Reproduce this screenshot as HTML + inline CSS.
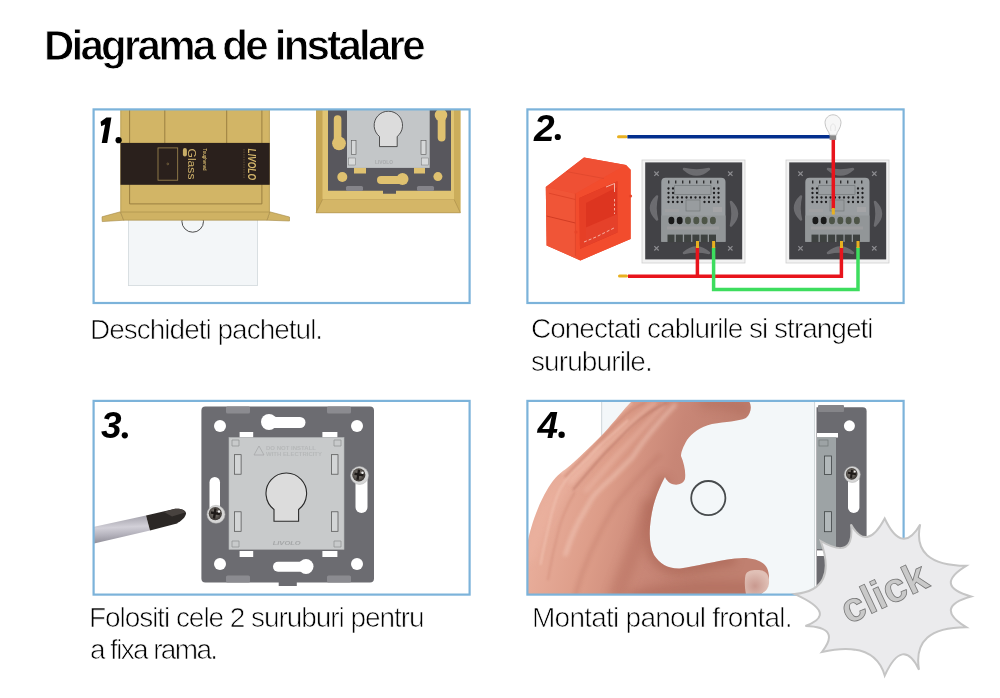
<!DOCTYPE html>
<html><head><meta charset="utf-8">
<style>
html,body{margin:0;padding:0;background:#fff;width:1000px;height:698px;overflow:hidden;position:relative;font-family:"Liberation Sans",sans-serif;}
h1{position:absolute;margin:0;left:44px;top:22.5px;font-size:42px;line-height:45px;font-weight:bold;color:#000;-webkit-text-stroke:0.85px #fff;white-space:nowrap;letter-spacing:-2.75px;will-change:transform;}
.cap{position:absolute;font-size:28px;color:#000;-webkit-text-stroke:0.7px #fff;line-height:34px;white-space:nowrap;will-change:transform;}
svg{position:absolute;left:0;top:0;will-change:transform;}
</style></head><body>
<h1>Diagrama de instalare</h1>
<svg width="1000" height="698" viewBox="0 0 1000 698">
<defs>
<clipPath id="c1"><rect x="93.6" y="109.4" width="376" height="193.6"/></clipPath>
<clipPath id="c2"><rect x="527.4" y="109.4" width="376.2" height="193.6"/></clipPath>
<clipPath id="c3"><rect x="93.6" y="400.9" width="376" height="193.7"/></clipPath>
<clipPath id="c4"><rect x="527.4" y="400.9" width="376.2" height="193.7"/></clipPath>
</defs>
<g clip-path="url(#c1)">
 <rect x="128.4" y="200" width="129.2" height="85.6" fill="#f3f6f8" stroke="#d3d9dc" stroke-width="0.8"/>
 <circle cx="192.7" cy="221.4" r="10.8" fill="none" stroke="#3a3a3a" stroke-width="0.9"/>
 <polygon points="120.3,211.8 102,216.8 102.2,221.6 124,220.2" fill="#d0b365" stroke="#a48a48" stroke-width="0.6"/>
 <polygon points="269.7,211.8 289.5,217 289.5,221 267,220.2" fill="#d0b365" stroke="#a48a48" stroke-width="0.6"/>
 <rect x="120.5" y="100" width="149.2" height="112" fill="#d2b566"/>
 <polygon points="120.5,212 269.7,212 267,220.2 123.6,220.2" fill="#cfb263" stroke="#a48a48" stroke-width="0.6"/>
 <line x1="120.8" y1="100" x2="120.8" y2="212" stroke="#b89d55" stroke-width="0.8"/>
 <line x1="269.4" y1="100" x2="269.4" y2="212" stroke="#b89d55" stroke-width="0.8"/>
 <path d="M129.6,100 V203.9 H261.9 V100" stroke="#94793d" fill="none" stroke-width="0.9"/>
 <path d="M164.8,100 V143 M226.7,100 V143" stroke="#94793d" stroke-width="0.9"/>
 <rect x="120.5" y="142.9" width="149.2" height="41.9" fill="#2a201c"/>
 <rect x="158" y="147.9" width="19.7" height="32.3" fill="none" stroke="#a38a52" stroke-width="0.8"/>
 <circle cx="167.8" cy="163.9" r="0.9" fill="none" stroke="#a38a52" stroke-width="0.5"/>
 <rect x="182.9" y="148" width="4" height="8.5" rx="2" fill="#c8ad66"/>
 <text transform="translate(188.3,148.5) rotate(90)" font-family="Liberation Sans" font-size="11.5" fill="#cdb06a" textLength="31" lengthAdjust="spacingAndGlyphs">Glass</text>
 <text transform="translate(203,148.5) rotate(90)" font-family="Liberation Sans" font-weight="bold" font-size="4.5" fill="#cdb06a" textLength="22" lengthAdjust="spacingAndGlyphs">Toughened</text>
 <text transform="translate(247.5,148.5) rotate(90)" font-family="Liberation Sans" font-weight="bold" font-style="italic" font-size="10" fill="#d6b86c" textLength="31.5" lengthAdjust="spacingAndGlyphs">LIVOLO</text>
 <line x1="244" y1="149" x2="244" y2="178" stroke="#6e5c3c" stroke-width="0.8" stroke-dasharray="1.5,1"/>

 <rect x="316" y="100" width="144.4" height="112.8" fill="#d2b365"/>
 <polygon points="316,100 322.6,100 322.6,199.4 316,212.8" fill="#c6a654"/>
 <polygon points="460.4,100 454,100 454,199.4 460.4,212.8" fill="#cbad5b"/>
 <polygon points="316,212.8 322.6,199.4 454,199.4 460.4,212.8" fill="#d4b667" stroke="#a88c48" stroke-width="0.6"/>
 <rect x="322.6" y="100" width="131.4" height="99.4" fill="#e0c473"/>
 <path d="M328,100 H451 V190.7 H396 V193.8 H383 V190.7 H328 Z" fill="#58575d"/>
 <path d="M337.6,119 V140" stroke="#dfc170" stroke-width="7.6" stroke-linecap="round"/>
 <circle cx="339" cy="143.3" r="6.9" fill="#dfc170"/>
 <path d="M441.6,116 V137.5" stroke="#dfc170" stroke-width="7.8" stroke-linecap="round"/>
 <circle cx="441" cy="115.1" r="6.3" fill="#dfc170"/>
 <circle cx="342.3" cy="177" r="5" fill="#dfc170"/>
 <circle cx="437.9" cy="176.6" r="4.5" fill="#dfc170"/>
 <path d="M381,180 H401" stroke="#dfc170" stroke-width="8" stroke-linecap="round"/>
 <circle cx="402.5" cy="179" r="6" fill="#dfc170"/>
 <rect x="354" y="167.5" width="12" height="6" fill="#dfc170"/>
 <rect x="414" y="167.5" width="11" height="6" fill="#dfc170"/>
 <rect x="346" y="186" width="17" height="5" rx="1.5" fill="#85848a"/>
 <rect x="417" y="186" width="17" height="5" rx="1.5" fill="#85848a"/>
 <rect x="347" y="100" width="82.7" height="67.9" fill="#c3c6c8"/>
 <rect x="348.5" y="158" width="7" height="7" fill="#d8dadb" stroke="#777" stroke-width="0.5"/>
 <rect x="421.5" y="158" width="7" height="7" fill="#d8dadb" stroke="#777" stroke-width="0.5"/>
 <rect x="351.3" y="140.3" width="4.7" height="14.2" fill="#d6d8d9" stroke="#555" stroke-width="0.6"/>
 <rect x="421" y="140.3" width="5" height="14.2" fill="#d6d8d9" stroke="#555" stroke-width="0.6"/>
 <path d="M379.5,146.6 V136.5 A14.2,14.2 0 1 1 397.2,136.5 V146.6 Z" fill="#dcdcdc" stroke="#2e2e2e" stroke-width="0.8"/>
 <text x="375" y="164" font-family="Liberation Sans" font-size="4.5" font-weight="bold" fill="#a9abad" textLength="18" lengthAdjust="spacingAndGlyphs">LIVOLO</text>
</g>
<defs>
 <g id="sw">
  <rect x="0" y="0" width="103" height="103" fill="#f2f2f2" stroke="#cfcfcf" stroke-width="0.8"/>
  <rect x="3.2" y="2.4" width="97" height="97" fill="#424246"/>
  <path d="M42,9 Q54.5,20 67,9 Q54.5,12 42,9 Z" fill="#6c6c70" stroke="#6c6c70" stroke-width="2.5" stroke-linejoin="round"/>
  <path d="M42,93 Q54.5,82 67,93 Q54.5,90 42,93 Z" fill="#6c6c70" stroke="#6c6c70" stroke-width="2.5" stroke-linejoin="round"/>
  <path d="M15,36.5 Q3,48 15,59.5 Q12,48 15,36.5 Z" fill="#6c6c70" stroke="#6c6c70" stroke-width="2.5" stroke-linejoin="round"/>
  <path d="M89,42 Q101,53.7 89,65.5 Q92,53.7 89,42 Z" fill="#6c6c70" stroke="#6c6c70" stroke-width="2.5" stroke-linejoin="round"/>
  <g stroke="#8c8c90" stroke-width="1.2">
  <path d="M12.3,11.5 L16.7,15.9 M16.7,11.5 L12.3,15.9"/>
  <path d="M86.1,11.5 L90.5,15.9 M90.5,11.5 L86.1,15.9"/>
  <path d="M12.3,86.1 L16.7,90.5 M16.7,86.1 L12.3,90.5"/>
  <path d="M86.1,86.1 L90.5,90.5 M90.5,86.1 L86.1,90.5"/>
  </g>
  <path d="M19.3,81.8 V22 Q19.3,17.7 23.6,17.7 H79.2 Q83.5,17.7 83.5,22 V81.8 Z" fill="#9a9ea1"/>
  <path d="M19.3,55.4 H83.5 V81.8 H19.3 Z" fill="#929698"/>
  <g fill="#2e2e30">
   <rect x="26" y="20.5" width="1.4" height="3"/><rect x="33" y="20.5" width="1.4" height="3"/><rect x="40" y="20.5" width="1.4" height="3"/><rect x="47" y="20.5" width="1.4" height="3"/>
   <rect x="54" y="20.5" width="1.4" height="3"/><rect x="61" y="20.5" width="1.4" height="3"/><rect x="68" y="20.5" width="1.4" height="3"/><rect x="75" y="20.5" width="1.4" height="3"/>
  </g>
  <g fill="#1c1c1e">
   <circle cx="26.5" cy="28.5" r="1.15"/><circle cx="31" cy="28.5" r="1.15"/><circle cx="72" cy="28.5" r="1.15"/><circle cx="76.5" cy="28.5" r="1.15"/>
   <circle cx="26.5" cy="33" r="1.15"/><circle cx="31" cy="33" r="1.15"/><circle cx="72" cy="33" r="1.15"/><circle cx="76.5" cy="33" r="1.15"/>
   <circle cx="26.5" cy="37.5" r="1.15"/><circle cx="31" cy="37.5" r="1.15"/><circle cx="35.5" cy="37.5" r="1.15"/><circle cx="40" cy="37.5" r="1.15"/><circle cx="44.5" cy="37.5" r="1.15"/><circle cx="49" cy="37.5" r="1.15"/><circle cx="53.5" cy="37.5" r="1.15"/><circle cx="58" cy="37.5" r="1.15"/><circle cx="62.5" cy="37.5" r="1.15"/><circle cx="67" cy="37.5" r="1.15"/><circle cx="72" cy="37.5" r="1.15"/><circle cx="76.5" cy="37.5" r="1.15"/>
   <circle cx="26.5" cy="42" r="1.15"/><circle cx="31" cy="42" r="1.15"/><circle cx="35.5" cy="42" r="1.15"/><circle cx="40" cy="42" r="1.15"/><circle cx="62.5" cy="42" r="1.15"/><circle cx="67" cy="42" r="1.15"/><circle cx="72" cy="42" r="1.15"/><circle cx="76.5" cy="42" r="1.15"/>
  </g>
  <rect x="32.6" y="25.7" width="36.4" height="8.8" fill="#9a9ea1" stroke="#6e7274" stroke-width="0.6"/>
  <rect x="44" y="40" width="14" height="11" fill="#989c9f" stroke="#6e7274" stroke-width="0.6"/>
  <rect x="23" y="49" width="14" height="3" fill="#a0a0a2"/>
  <rect x="71" y="47" width="9" height="5" fill="#a5a5a7"/>
  <g>
   <rect x="26.5" y="56.7" width="5.8" height="7.5" rx="2.9" fill="#1a1a1a"/>
   <rect x="34.8" y="56.7" width="5.8" height="7.5" rx="2.9" fill="#1a1a1a"/>
   <rect x="43.1" y="56.7" width="5.8" height="7.5" rx="2.9" fill="#4e5548"/>
   <rect x="51.4" y="56.7" width="5.8" height="7.5" rx="2.9" fill="#4e5548"/>
   <rect x="59.7" y="56.7" width="5.8" height="7.5" rx="2.9" fill="#4e5548"/>
   <rect x="68" y="56.7" width="5.8" height="7.5" rx="2.9" fill="#4e5548"/>
  </g>
  <rect x="25" y="66.5" width="52" height="3" fill="#9c9c9e"/>
  <g fill="#3e4240">
   <rect x="25.5" y="74.6" width="7" height="7.5"/><rect x="33.8" y="74.6" width="7" height="7.5"/><rect x="42.1" y="74.6" width="7" height="7.5"/>
   <rect x="50.4" y="74.6" width="7" height="7.5"/><rect x="58.7" y="74.6" width="7" height="7.5"/><rect x="67" y="74.6" width="7" height="7.5"/>
  </g>
 </g>
</defs>
<g clip-path="url(#c2)">
 <polygon points="545.8,187 584,157.4 626,165 630.6,169.8 630.6,239 580.4,260.4 546.6,245.5" fill="#ee4a2e"/>
 <polygon points="545.8,187 584,157.4 626,165 575.4,193.7" fill="#ef5034"/>
 <polygon points="545.8,187 575.4,193.7 575.4,256 580.4,260.4 546.6,245.5" fill="#f05537"/>
 <path d="M575.4,193.7 L626,165 L630.6,169.8 L630.6,239 L580.4,260.4 L575.4,256 Z M579.5,198 L617.4,181.3 L617.4,232.4 L580,248.8 Z" fill="#f24c2d" fill-rule="evenodd"/>
 <polygon points="579.5,198 617.4,181.3 617.4,232.4 580,248.8" fill="#dd3520"/>
 <polygon points="580,230 617.4,214 617.4,232.4 580,248.8" fill="#e5412a"/>
 <polygon points="579.5,198 617.4,181.3 617.4,187 586,203 586,245.5 580,248.8" fill="#e63f26"/>
 <polyline points="606,187 614.5,183.5 614.5,192" fill="none" stroke="#f9d0c4" stroke-width="0.8"/>
 <polyline points="614.5,199 614.5,214" fill="none" stroke="#f9d0c4" stroke-width="0.8" stroke-dasharray="2.5,2"/>
 <polyline points="584,242 596,237 608,231 614,228" fill="none" stroke="#f9d0c4" stroke-width="0.8" stroke-dasharray="3,2"/>
 <line x1="548.9" y1="193.2" x2="575.4" y2="199.5" stroke="#d83d24" stroke-width="0.7"/>
 <line x1="546.6" y1="216" x2="575.4" y2="223" stroke="#c9351e" stroke-width="0.8"/>
 <line x1="566" y1="171.5" x2="604" y2="178.5" stroke="#d8432a" stroke-width="0.6"/>
 <line x1="575.4" y1="193.7" x2="575.4" y2="256" stroke="#d9442a" stroke-width="0.6"/>
 <circle cx="630.5" cy="196" r="1.6" fill="#e84428"/>
 <circle cx="576" cy="232" r="1.6" fill="#e84428"/>
 <use href="#sw" x="642" y="160"/>
 <use href="#sw" x="786" y="160"/>

 <rect x="617" y="135.3" width="10.5" height="3" rx="1.5" fill="#e8b020"/>
 <rect x="627.4" y="135" width="203" height="3.5" fill="#032f8e"/>
 <rect x="618" y="274.6" width="10" height="3" rx="1.5" fill="#e8b020"/>
 <path d="M628,276.3 H697.4 V247 M697.4,276.3 H841.4 V247" fill="none" stroke="#e8141c" stroke-width="3.5"/>
 <path d="M713.6,247 V289.5 H858 V247" fill="none" stroke="#3ddd5e" stroke-width="3.5"/>
 <path d="M833.3,139 V209" fill="none" stroke="#e8141c" stroke-width="3.5"/>
 <g fill="#e8b020">
  <rect x="696" y="241" width="3" height="7"/><rect x="712.1" y="241" width="3" height="7"/>
  <rect x="840" y="241" width="3" height="7"/><rect x="856.5" y="241" width="3" height="7"/>
  <rect x="831.8" y="208" width="3" height="6.5"/>
 </g>
 <path d="M829.6,135.2 C829.3,131.5 825,128.5 825,122.8 C825,118.3 828.6,114.8 833,114.8 C837.4,114.8 841,118.3 841,122.8 C841,128.5 836.7,131.5 836.4,135.2 Z" fill="#f7f7f7" stroke="#b8b8b8" stroke-width="0.8"/>
 <path d="M831,131 C830,127 831,124 833,124 C835,124 836,127 835,131" fill="none" stroke="#dedede" stroke-width="0.7"/>
 <rect x="829.6" y="135.4" width="6.6" height="4.5" fill="#8a8a8a"/>
</g>
<defs>
 <radialGradient id="scr" cx="0.45" cy="0.45" r="0.6">
  <stop offset="0" stop-color="#8a8580"/><stop offset="0.6" stop-color="#5a5550"/><stop offset="1" stop-color="#2e2a28"/>
 </radialGradient>
 <linearGradient id="shaft" x1="0" y1="0" x2="0.1" y2="1">
  <stop offset="0" stop-color="#9a98a2"/><stop offset="0.45" stop-color="#d2d0d8"/><stop offset="0.7" stop-color="#b4b2bc"/><stop offset="1" stop-color="#8d8b95"/>
 </linearGradient>
</defs>
<g clip-path="url(#c3)">
 <polygon points="90,527.6 146,515.5 150,530.5 90,544.5" fill="url(#shaft)"/>
 <path d="M146,515.5 L173,509.2 C180,508 186,510 186,513.5 C185.8,517 181.5,520.5 177,523.5 L150,530.5 Z" fill="#2b2725"/>
 <path d="M164,512 L173,509.2 C180,508 185,510 185,512.5 L172,516.5 Z" fill="#48423f"/>

 <path d="M205.4,406.5 H370 Q374,406.5 374,410.5 V578.5 Q374,582.5 370,582.5 H296.8 V586 H278.7 V582.5 H205.4 Q201.4,582.5 201.4,578.5 V410.5 Q201.4,406.5 205.4,406.5 Z" fill="#6c6c71"/>
 <rect x="226" y="406.5" width="24" height="7" rx="1.5" fill="#8b8b90"/>
 <rect x="327" y="406.5" width="24" height="7" rx="1.5" fill="#8b8b90"/>
 <rect x="226" y="575.5" width="24" height="7" rx="1.5" fill="#8b8b90"/>
 <rect x="327" y="575.5" width="24" height="7" rx="1.5" fill="#8b8b90"/>
 <g fill="#fff">
  <circle cx="220" cy="426" r="6"/><circle cx="357" cy="426" r="6"/>
  <circle cx="220" cy="564" r="6"/><circle cx="357" cy="564" r="6"/>
  <path d="M270,422.5 H300" stroke="#fff" stroke-width="11" stroke-linecap="round"/>
  <circle cx="269" cy="422" r="8"/>
  <path d="M278,566.8 H305" stroke="#fff" stroke-width="10" stroke-linecap="round"/>
  <circle cx="306" cy="566.5" r="7.5"/>
  <rect x="209.5" y="477" width="10.5" height="39" rx="5.25"/>
  <rect x="355.5" y="474" width="12" height="39" rx="6"/>
  <rect x="239.6" y="432" width="13.6" height="5.5"/><rect x="322.4" y="432" width="15" height="5.5"/>
  <rect x="239.6" y="551" width="13.6" height="6"/><rect x="322.4" y="551" width="15" height="6"/>
 </g>
 <rect x="229" y="437.5" width="115" height="111.9" fill="#c8cacb"/>
 <rect x="229" y="437.5" width="115" height="111.9" fill="none" stroke="#b3b5b6" stroke-width="0.6"/>
 <path d="M232,440 h7 v6 h-7 z M334,440 h7 v6 h-7 z M232,541 h7 v6 h-7 z M334,541 h7 v6 h-7 z" fill="none" stroke="#8e9091" stroke-width="0.7"/>
 <rect x="234.5" y="454.7" width="6.6" height="19.5" fill="#d3d5d6" stroke="#4a4a4a" stroke-width="0.7"/>
 <rect x="234.5" y="511.8" width="6.6" height="19.5" fill="#d3d5d6" stroke="#4a4a4a" stroke-width="0.7"/>
 <rect x="331.4" y="454.7" width="6.6" height="19.5" fill="#d3d5d6" stroke="#4a4a4a" stroke-width="0.7"/>
 <rect x="331.4" y="511.8" width="6.6" height="19.5" fill="#d3d5d6" stroke="#4a4a4a" stroke-width="0.7"/>
 <path d="M274,521.2 V509.45 A20.3,20.3 0 1 1 298.6,509.45 V521.2 Z" fill="#dcdcdc" stroke="#2a2a2a" stroke-width="1.1"/>
 <polygon points="259,446 254,455 264,455" fill="none" stroke="#a3a5a6" stroke-width="0.7"/>
 <text x="266" y="450" font-family="Liberation Sans" font-weight="bold" font-size="4.5" fill="#b6b8b9" textLength="50" lengthAdjust="spacingAndGlyphs">DO NOT INSTALL</text>
 <text x="266" y="456" font-family="Liberation Sans" font-weight="bold" font-size="4.5" fill="#b6b8b9" textLength="56" lengthAdjust="spacingAndGlyphs">WITH ELECTRICITY</text>
 <text x="272.7" y="545" font-family="Liberation Sans" font-weight="bold" font-style="italic" font-size="6" fill="#a5a7a8" textLength="28" lengthAdjust="spacingAndGlyphs">LIVOLO</text>
 <g id="screwA">
 <circle cx="216" cy="514.3" r="9" fill="#d6d6d6" stroke="#b0b0b0" stroke-width="0.5"/>
 <circle cx="215.3" cy="513.6" r="6.6" fill="url(#scr)"/>
 <path d="M211,512.5 L220,514 M215.5,508.5 L214,518.5" stroke="#1e1a18" stroke-width="2.4"/>
 <circle cx="219" cy="511.5" r="1.2" fill="#f0f0f0"/>
 </g>
 <circle cx="359.5" cy="475.5" r="9" fill="#d6d6d6" stroke="#b0b0b0" stroke-width="0.5"/>
 <circle cx="358.8" cy="474.8" r="6.6" fill="url(#scr)"/>
 <path d="M354.5,473.7 L363.5,475.2 M359,469.7 L357.5,479.7" stroke="#1e1a18" stroke-width="2.4"/>
 <circle cx="362.5" cy="472.7" r="1.2" fill="#f0f0f0"/>
</g>
<defs>
 <linearGradient id="hand" gradientUnits="userSpaceOnUse" x1="540" y1="520" x2="700" y2="560">
  <stop offset="0" stop-color="#e8ad9a"/><stop offset="0.35" stop-color="#dc9c88"/><stop offset="0.7" stop-color="#c88676"/><stop offset="1" stop-color="#c08070"/>
 </linearGradient>
 <linearGradient id="handL" x1="0" y1="0" x2="1" y2="0">
  <stop offset="0" stop-color="#e7a48d" stop-opacity="0.9"/><stop offset="1" stop-color="#e7a48d" stop-opacity="0"/>
 </linearGradient>
 <radialGradient id="scr2" cx="0.45" cy="0.45" r="0.6">
  <stop offset="0" stop-color="#8a8580"/><stop offset="0.6" stop-color="#5a5550"/><stop offset="1" stop-color="#2e2a28"/>
 </radialGradient>
</defs>
<g clip-path="url(#c4)">
 <rect x="601.4" y="390" width="213.6" height="210" fill="#f3f7f9"/>
 <line x1="601.6" y1="390" x2="601.6" y2="600" stroke="#d5dcdf" stroke-width="1.2"/>
 <line x1="814.6" y1="390" x2="814.6" y2="600" stroke="#cfd5d8" stroke-width="1"/>
 <path d="M816.5,407.2 H862.6 Q866.6,407.2 866.6,411.2 V600 H816.5 Z" fill="#6b6b70"/>
 <rect x="818" y="405" width="26" height="7" rx="1" fill="#858589"/>
 <circle cx="849.4" cy="425.8" r="5.5" fill="#fff"/>
 <rect x="817" y="433" width="21" height="4.5" fill="#fff"/>
 <rect x="817" y="550.4" width="21" height="5.6" fill="#fff"/>
 <rect x="848" y="474" width="11.4" height="39" rx="5.7" fill="#fff"/>
 <rect x="817" y="437.2" width="19" height="111.8" fill="#9da3a5"/>
 <rect x="819" y="440" width="9" height="6" fill="none" stroke="#707677" stroke-width="0.7"/>
 <rect x="824.5" y="456" width="6.9" height="18.5" fill="#b2b8ba" stroke="#3f4445" stroke-width="0.8"/>
 <rect x="824.5" y="511.7" width="6.9" height="20" fill="#b2b8ba" stroke="#3f4445" stroke-width="0.8"/>
 <circle cx="852.3" cy="474.5" r="8" fill="#d6d6d6" stroke="#b0b0b0" stroke-width="0.5"/>
 <circle cx="851.7" cy="473.9" r="5.8" fill="url(#scr2)"/>
 <path d="M848,472.8 L856,474.2 M852,470 L851,478" stroke="#1e1a18" stroke-width="2.1"/>
 <circle cx="854.8" cy="471.5" r="1" fill="#f0f0f0"/>

 <circle cx="708.3" cy="498.1" r="17.1" fill="none" stroke="#474b4d" stroke-width="1.8"/>

 <clipPath id="hc"><path d="M527,600 L527,546 C530,528 538,505 547,490 C552,481 558,474 566,469 C578,459 590,447 604,433 C615,421 624,409 633,400 L748,400 C752,404 752,413 746,418 C738,421.5 726,421.5 712,424 C700,427 692,433 687,440 C683,447 681,452 681,456 C684,463 686,472 685,479 C683,485 675,486 670,483 C666,480 665,477 665,477 C659,488 653,503 651,518 C649,532 649,545 654,555 C660,564 668,569 680,568.5 C697,566.5 715,561 735,558.6 C750,556.5 763,560 767,568 C771,577 769,588 762,593 C758,597 754,600 750,600 Z"/></clipPath>
 <filter id="bl2" filterUnits="userSpaceOnUse" x="500" y="380" width="320" height="240"><feGaussianBlur stdDeviation="2"/></filter>
 <filter id="bl4" filterUnits="userSpaceOnUse" x="500" y="380" width="320" height="240"><feGaussianBlur stdDeviation="5"/></filter>
 <filter id="bl1" filterUnits="userSpaceOnUse" x="500" y="380" width="320" height="240"><feGaussianBlur stdDeviation="0.9"/></filter>
 <path d="M527,600 L527,546 C530,528 538,505 547,490 C552,481 558,474 566,469 C578,459 590,447 604,433 C615,421 624,409 633,400 L748,400 C752,404 752,413 746,418 C738,421.5 726,421.5 712,424 C700,427 692,433 687,440 C683,447 681,452 681,456 C684,463 686,472 685,479 C683,485 675,486 670,483 C666,480 665,477 665,477 C659,488 653,503 651,518 C649,532 649,545 654,555 C660,564 668,569 680,568.5 C697,566.5 715,561 735,558.6 C750,556.5 763,560 767,568 C771,577 769,588 762,593 C758,597 754,600 750,600 Z" fill="url(#hand)"/>
 <g clip-path="url(#hc)">
  <path d="M665,477 C659,488 653,503 651,518 C649,532 649,545 654,555 C660,564 668,569 680,568.5 C697,566.5 715,561 735,558.6" fill="none" stroke="#9c5444" stroke-width="12" opacity="0.4" filter="url(#bl4)"/>
  <path d="M630,600 C650,590 700,585 770,590" fill="none" stroke="#a05848" stroke-width="14" opacity="0.35" filter="url(#bl4)"/>
  <path d="M700,402 C720,402 735,404 750,410" fill="none" stroke="#a86050" stroke-width="12" opacity="0.35" filter="url(#bl4)"/>
  <path d="M615,600 C625,570 640,540 650,500" fill="none" stroke="#a45c4c" stroke-width="16" opacity="0.3" filter="url(#bl4)"/>
  <path d="M527,560 C540,520 560,480 600,445" fill="none" stroke="#eeb7a5" stroke-width="14" opacity="0.4" filter="url(#bl4)"/>
  <path d="M540.4,565 C545,540 549,525 551.6,513.8 C555,500 559,490 562.8,484.7 C568,476 573,471 578.5,466.8 C588,458 595,450 600.8,444.5 C610,436 620,428 628,420" fill="none" stroke="#f2c4b3" stroke-width="1.8" opacity="0.75" filter="url(#bl1)"/>
  <path d="M548,580 C552,555 556,540 560,525 C565,510 570,500 575,492" fill="none" stroke="#c98370" stroke-width="1.5" opacity="0.5" filter="url(#bl1)"/>
  <path d="M565,556 C570,540 576,525 583,513.8 C587,507 590,502 592,498 C598,490 605,484 612,478 C620,470 626,464 632,458 C636,452 640,446 643,442 C652,430 662,418 676,404" fill="none" stroke="#f6d0c2" stroke-width="2.6" opacity="0.8" filter="url(#bl2)"/>
  <path d="M575,596 C585,560 600,530 615,505 C630,485 645,470 660,455" fill="none" stroke="#b26c5c" stroke-width="3" opacity="0.35" filter="url(#bl2)"/>
  <path d="M569,483 C585,466 605,446 620,433 C635,420 645,410 656,402" fill="none" stroke="#f2c3b2" stroke-width="4" opacity="0.55" filter="url(#bl2)"/>
  <path d="M585,492 C600,475 612,460 622,450 C635,436 648,422 665,404" fill="none" stroke="#f0bfae" stroke-width="4" opacity="0.5" filter="url(#bl2)"/>
  <path d="M565,477 C585,456 600,440 616.7,423.2 C628,412 636,406 645,402.6" fill="none" stroke="#c07a68" stroke-width="1.5" opacity="0.65" filter="url(#bl1)"/>
  <path d="M573,490 C590,470 600,458 609,449 C618,440 625,432 632,425.8 C645,414 655,408 667,402.6" fill="none" stroke="#b47060" stroke-width="1.8" opacity="0.6" filter="url(#bl1)"/>
  <path d="M561,474 C580,454 598,436 614,419.3 C620,413 626,407 632,402.6" fill="none" stroke="#f4cbbb" stroke-width="2" opacity="0.6" filter="url(#bl1)"/>
 </g>
 <radialGradient id="nail" gradientUnits="userSpaceOnUse" cx="755" cy="586" r="14"><stop offset="0" stop-color="#c9998f"/><stop offset="1" stop-color="#e0c0b6"/></radialGradient>
 <path d="M745.5,575 C747,570 755,569.5 762,570.5 C767.5,572 769.5,577 769,583 C768.5,588 766,592 760,594 L746,594 C744.5,587 744.5,580 745.5,575 Z" fill="url(#nail)"/>
</g>

<g fill="none" stroke="#7cb3da" stroke-width="2.2">
<rect x="93.6" y="109.4" width="376" height="193.6"/>
<rect x="527.4" y="109.4" width="376.2" height="193.6"/>
<rect x="93.6" y="400.9" width="376" height="193.7"/>
<rect x="527.4" y="400.9" width="376.2" height="193.7"/>
</g>
<g font-family="Liberation Sans" font-weight="bold" font-size="37" fill="#000">
<path d="M106.4,117.6 L111.4,117.6 L107.2,143 L101.7,143 L105.1,124.4 L101.2,126.2 L100.6,121.8 Z"/><circle cx="118.6" cy="140.2" r="3.1"/>
<text x="534" y="140.5" font-style="italic">2</text><circle cx="557.8" cy="137" r="3.1"/>
<text x="101" y="438.3" font-style="italic">3</text><circle cx="124.8" cy="435.3" r="3.1"/>
<text x="537.5" y="438.3" font-style="italic">4</text><circle cx="561.6" cy="434.8" r="3.2"/>
</g>
<path d="M884.7,518.5 Q902.3,555.8 920.2,524.4 Q911.2,565.3 966.2,565.8 Q933.2,585.9 971.0,596.5 Q933.2,607.1 966.2,627.2 Q911.8,627.1 919.0,669.7 Q902.9,636.1 884.7,675.6 Q874.7,640.2 821.9,652.0 Q841.9,627.0 805.4,626.0 Q839.0,613.8 794.7,594.1 Q838.3,590.0 820.7,541.0 Q855.1,561.1 851.0,524.4 Q866.7,552.5 884.7,518.5 Z" fill="#ebebed" stroke="#c5c5c5" stroke-width="2"/>
<text transform="translate(848.5,624.5) rotate(-25)" font-family="Liberation Sans" font-weight="bold" font-size="41" fill="#c9c9c9" stroke="#777" stroke-width="0.8">click</text>

</svg>
<div class="cap" style="left:89.5px;top:312.8px;letter-spacing:-1px">Deschideti pachetul.</div>
<div class="cap" style="left:531px;top:311.7px;letter-spacing:-1px">Conectati cablurile si strangeti</div>
<div class="cap" style="left:531px;top:345.3px;letter-spacing:-0.9px">suruburile.</div>
<div class="cap" style="left:89.2px;top:601.2px;letter-spacing:-1.06px">Folositi cele 2 suruburi pentru</div>
<div class="cap" style="left:90px;top:633.3px;letter-spacing:-1.65px">a fixa rama.</div>
<div class="cap" style="left:532px;top:600.7px;letter-spacing:-0.75px">Montati panoul frontal.</div>
</body></html>
